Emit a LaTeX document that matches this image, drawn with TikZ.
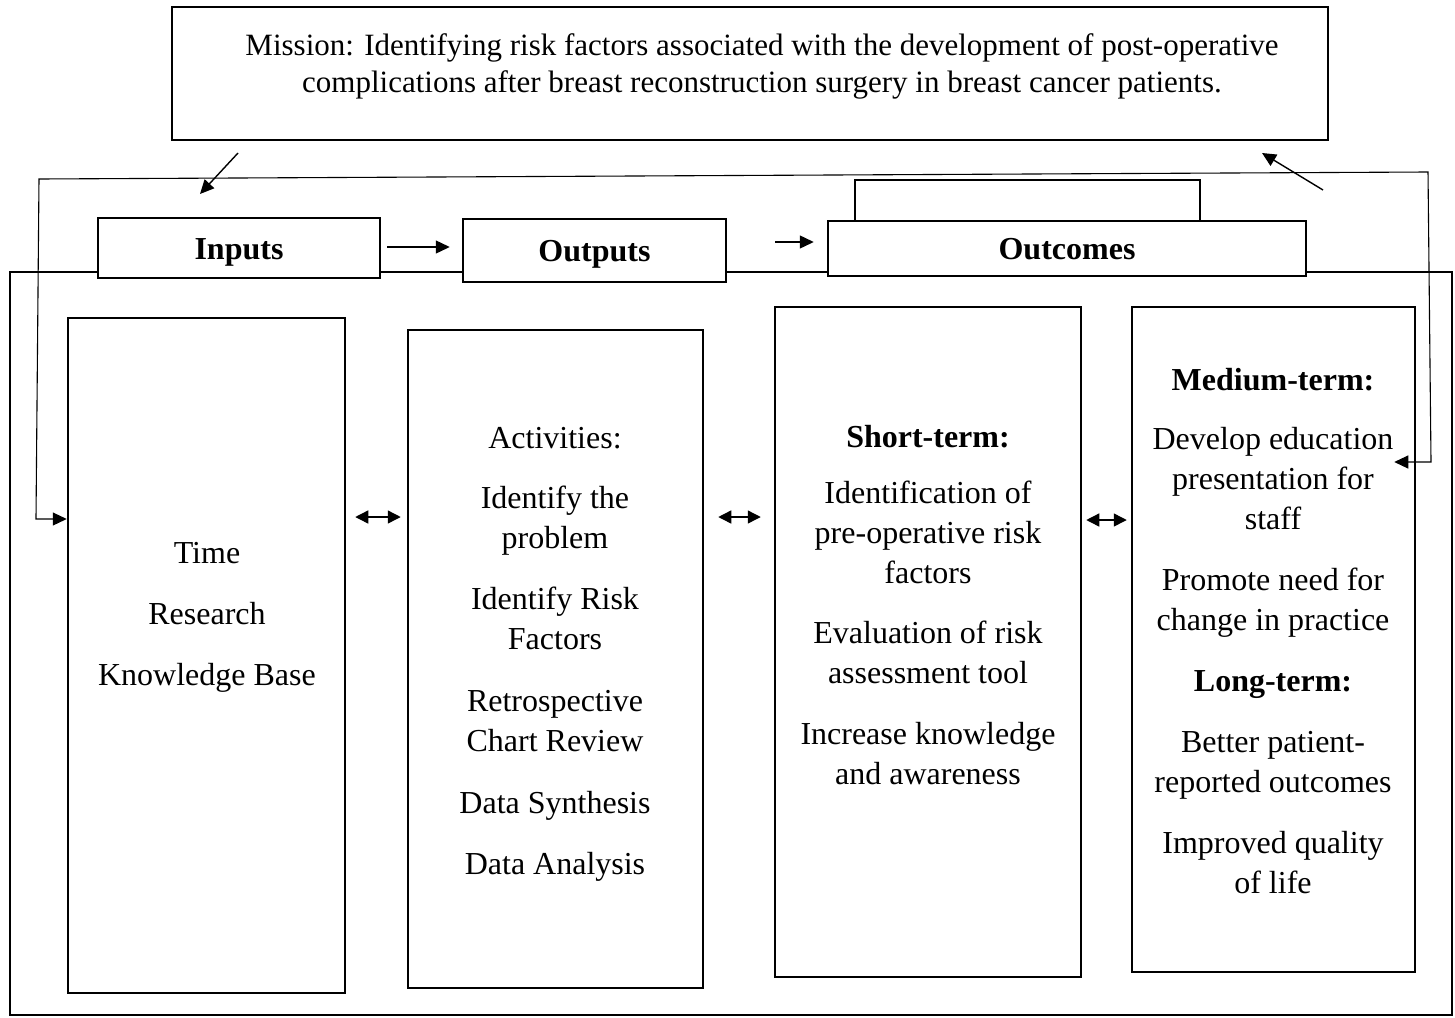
\documentclass[tikz,border=0pt]{standalone}
\usepackage{fontspec}
\setmainfont{Liberation Serif}
\usetikzlibrary{arrows.meta}

\begin{document}
\begin{tikzpicture}[x=1pt,y=-1pt,
    box/.style={draw, line width=2.5pt, inner sep=0pt, fill=white},
    hdr/.style={box, text height=22pt, text depth=0pt, font=\bfseries\fontsize{32}{40}\selectfont},
    txt/.style={align=center, inner sep=0pt, font=\fontsize{32}{40}\selectfont},
    arrow/.style={line width=1.4pt, -{Triangle[length=14pt,width=13pt]}},
    dbl/.style={line width=1.4pt, {Triangle[length=13pt,width=13pt]}-{Triangle[length=13pt,width=13pt]}},
    loopline/.style={line width=1.1pt, {Triangle[length=14pt,width=13pt]}-{Triangle[length=14pt,width=13pt]}}]
    \useasboundingbox (0,0) rectangle (1455,1017);

    % mission
    \node[box, minimum width=1156pt, minimum height=133pt] (mission) at (750,73.5) {};
    \node[txt, font=\fontsize{31}{37}\selectfont] (missiontext) at (762,66)
        {Mission: Identifying risk factors associated with the development of post-operative\\
         complications after breast reconstruction surgery in breast cancer patients.};

    % frame and headers
    \node[box, fill=none, minimum width=1442pt, minimum height=743pt] (panel) at (731,643.5) {};
    \node[hdr, minimum width=282pt, minimum height=60pt] (inputs) at (239,248) {Inputs};
    \node[hdr, minimum width=263pt, minimum height=63pt] (outputs) at (594.5,250.5) {Outputs};
    \node[box, minimum width=345pt, minimum height=41pt] (cap) at (1027.5,200.5) {};
    \node[hdr, minimum width=478pt, minimum height=55pt] (outcomes) at (1067,248.5) {Outcomes};

    % columns
    \node[box, minimum width=277pt, minimum height=675pt] (timebox) at (206.5,655.5) {};
    \node[box, minimum width=295pt, minimum height=658pt] (actbox) at (555.5,659) {};
    \node[box, minimum width=306pt, minimum height=670pt] (shortbox) at (928,642) {};
    \node[box, minimum width=283pt, minimum height=665pt] (medbox) at (1273.5,639.5) {};

    \node[txt] (inputstext) at (207,617.5) {Time\\[21pt]Research\\[21pt]Knowledge Base};
    \node[txt] (acttext) at (555,654) {Activities:\\[20pt]Identify the\\problem\\[21pt]Identify Risk\\Factors\\[22pt]Retrospective\\Chart Review\\[22pt]Data Synthesis\\[21pt]Data Analysis};
    \node[txt] (shorttext) at (928,605.5) {\textbf{Short-term:}\\[16pt]Identification of\\pre-operative risk\\factors\\[20pt]Evaluation of risk\\assessment tool\\[21pt]Increase knowledge\\and awareness};
    \node[txt] (medtext) at (1273,631) {\textbf{Medium-term:}\\[19pt]Develop education\\presentation for\\staff\\[21pt]Promote need for\\change in practice\\[21pt]\textbf{Long-term:}\\[21pt]Better patient-\\reported outcomes\\[21pt]Improved quality\\of life};

    % arrows
    \coordinate (missionout) at (238,153);
    \coordinate (inputsin) at (200,194);
    \coordinate (feedout) at (1323,190);
    \coordinate (missionin) at (1262,153);

    \draw[arrow] (missionout) -- (inputsin);
    \draw[arrow] (feedout) -- (missionin);
    \draw[arrow] ([xshift=6pt]inputs.east |- 0,247) -- ([xshift=-12pt]outputs.west |- 0,247);
    \draw[arrow] ([xshift=48pt]outputs.east |- 0,242) -- ([xshift=-13pt]outcomes.west |- 0,242);

    \draw[dbl] ([xshift=9pt]timebox.east |- 0,517) -- ([xshift=-6pt]actbox.west |- 0,517);
    \draw[dbl] ([xshift=14pt]actbox.east |- 0,517) -- ([xshift=-13pt]shortbox.west |- 0,517);
    \draw[dbl] ([xshift=4pt]shortbox.east |- 0,520) -- ([xshift=-4pt]medbox.west |- 0,520);

    \draw[loopline] ([xshift=-22pt]medbox.east |- 0,462) -- (1431,462) -- (1428,172)
        -- (39,179) -- (36,519) -- (timebox.west |- 0,519);
\end{tikzpicture}
\end{document}
